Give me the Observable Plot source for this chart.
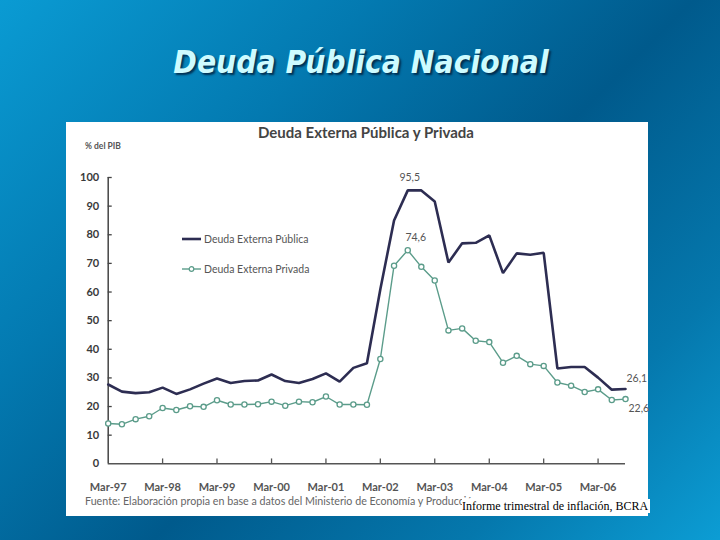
<!DOCTYPE html>
<html>
<head>
<meta charset="utf-8">
<script src="https://cdn.jsdelivr.net/npm/d3@7"></script>
<script src="https://cdn.jsdelivr.net/npm/@observablehq/plot@0.6"></script>
<style>
  html, body { margin: 0; padding: 0; }
  body {
    width: 720px; height: 540px; overflow: hidden; position: relative;
    background: linear-gradient(135deg, #0a9bd3 0%, #0379b0 30%, #005a8c 55%, #0578ad 80%, #0c9dd4 100%);
    font-family: "Lato", sans-serif;
  }
  #title {
    position: absolute; left: 0; width: 722px; top: 44px; text-align: center;
    font-family: "DejaVu Sans Condensed", "DejaVu Sans", sans-serif;
    font-weight: bold; font-style: italic; font-size: 31.5px; color: #cdfbff; line-height: 36px;
    text-shadow: 2px 2px 2px rgba(0,30,60,0.8);
  }
  #panel {
    position: absolute; left: 66px; top: 122px; width: 582px; height: 394px; background: #fff;
  }
  #ctitle {
    position: absolute; left: 0; width: 600px; top: 1px; text-align: center;
    font-family: "Lato", sans-serif; font-weight: bold; font-size: 15px; color: #444;
  }
  #unit {
    position: absolute; left: 19px; top: 19px; font-size: 8.5px; font-weight: bold; color: #555;
  }
  #plot { position: absolute; left: 0; top: 0; }
  .leg { position: absolute; left: 116px; font-size: 10.5px; color: #555; display: flex; align-items: center; }
  .leg svg { margin-right: 3px; }
  #source {
    position: absolute; left: 19px; top: 372px; font-size: 10.7px; color: #666; white-space: nowrap;
  }
  #bcra {
    position: absolute; left: 396px; top: 377px; font-family: "Liberation Serif", serif; font-size: 12px;
    color: #000; background: #fff; white-space: nowrap; line-height: 14px; padding-right: 2px;
  }
</style>
</head>
<body>
<div id="title">Deuda Pública Nacional</div>
<div id="panel">
  <div id="ctitle">Deuda Externa Pública y Privada</div>
  <div id="unit">% del PIB</div>
  <div id="plot"></div>
  <div class="leg" style="top:111px;"><svg width="19" height="8"><line x1="0" x2="19" y1="4" y2="4" stroke="#2d2d52" stroke-width="2.6"/></svg>Deuda Externa Pública</div>
  <div class="leg" style="top:141px;"><svg width="19" height="8"><line x1="0" x2="19" y1="4" y2="4" stroke="#5b9c8a" stroke-width="1.4"/><circle cx="9.5" cy="4" r="2.3" fill="#fff" stroke="#5b9c8a" stroke-width="1.2"/></svg>Deuda Externa Privada</div>
  <div id="source">Fuente: Elaboración propia en base a datos del Ministerio de Economía y Producción</div>
  <div id="bcra">Informe trimestral de inflación, BCRA</div>
</div>
<script>
// Quarterly observations, Mar-97 .. Sep-06
const quarters = [
  "1997-03","1997-06","1997-09","1997-12",
  "1998-03","1998-06","1998-09","1998-12",
  "1999-03","1999-06","1999-09","1999-12",
  "2000-03","2000-06","2000-09","2000-12",
  "2001-03","2001-06","2001-09","2001-12",
  "2002-03","2002-06","2002-09","2002-12",
  "2003-03","2003-06","2003-09","2003-12",
  "2004-03","2004-06","2004-09","2004-12",
  "2005-03","2005-06","2005-09","2005-12",
  "2006-03","2006-06","2006-09"
];
const publica = [
  27.7, 25.2, 24.7, 25.0,
  26.6, 24.4, 26.0, 28.0,
  29.8, 28.2, 28.9, 29.1,
  31.2, 28.9, 28.2, 29.6,
  31.6, 28.7, 33.5, 35.1,
  61.0, 85.0, 95.5, 95.5,
  91.6, 70.3, 77.0, 77.2,
  79.8, 66.6, 73.5, 73.0,
  73.7, 33.3, 33.8, 33.8,
  30.1, 25.9, 26.1
];
const privada = [
  14.1, 13.8, 15.6, 16.6,
  19.5, 18.8, 20.1, 19.9,
  22.2, 20.7, 20.7, 20.8,
  21.7, 20.3, 21.7, 21.5,
  23.5, 20.7, 20.7, 20.6,
  36.6, 69.2, 74.6, 68.8,
  64.0, 46.6, 47.3, 43.0,
  42.5, 35.3, 37.7, 34.8,
  34.2, 28.4, 27.3, 25.1,
  26.0, 22.3, 22.6
];
const yTicks = [0, 10, 20, 30, 40, 50, 60, 70, 80, 90, 100];
const xTickYears = [1997, 1998, 1999, 2000, 2001, 2002, 2003, 2004, 2005, 2006];
const annotations = [
  {q: "2002-09", v: 95.5, label: "95,5", serie: "pub"},
  {q: "2002-09", v: 74.6, label: "74,6", serie: "priv"},
  {q: "2006-09", v: 26.1, label: "26,1", serie: "pubEnd"},
  {q: "2006-09", v: 22.6, label: "22,6", serie: "privEnd"}
];

const toDate = q => { const [y, m] = q.split("-").map(Number); return new Date(Date.UTC(y, m - 1, 1)); };
const data = quarters.map((q, i) => ({date: toDate(q), pub: publica[i], priv: privada[i]}));
const d0 = data[0].date, d1 = data[data.length - 1].date;
const xTicks = xTickYears.map(y => new Date(Date.UTC(y, 2, 1)));
const tickEnd = new Date(Date.UTC(1997, 2, 28));
const ann = annotations.map(a => ({...a, date: toDate(a.q)}));

const navy = "#2d2d52", teal = "#5b9c8a";
const chart = Plot.plot({
  width: 582, height: 394,
  marginLeft: 41.7, marginRight: 23, marginTop: 55, marginBottom: 52.7,
  x: {type: "utc", domain: [d0, d1]},
  y: {domain: [0, 100]},
  style: {background: "transparent", fontFamily: "Lato, sans-serif", overflow: "visible"},
  marks: [
    Plot.ruleY(yTicks.slice(1), {y: d => d, x1: () => d0, x2: () => tickEnd, stroke: "#444", strokeWidth: 1.3}),
    Plot.ruleX(xTicks.slice(1), {x: d => d, y1: 0, y2: 1.7, stroke: "#555", strokeWidth: 1.3}),
    Plot.ruleY([0], {x1: () => d0, x2: () => d1, stroke: "#555", strokeWidth: 1.5}),
    Plot.ruleX([d0], {y1: 0, y2: 100, stroke: "#444", strokeWidth: 1.5}),
    Plot.axisY({ticks: yTicks, tickSize: 0, tickPadding: 9, fontSize: 11, fontWeight: "bold", fill: "#3a3a3a"}),
    Plot.axisX({ticks: xTicks, tickSize: 0, tickPadding: 19, fontSize: 11, fontWeight: "bold", fill: "#555",
      tickFormat: d => "Mar-" + String(d.getUTCFullYear()).slice(2)}),
    Plot.line(data, {x: "date", y: "priv", stroke: teal, strokeWidth: 1.4}),
    Plot.dot(data, {x: "date", y: "priv", r: 2.6, stroke: teal, fill: "#fff", strokeWidth: 1.3}),
    Plot.line(data, {x: "date", y: "pub", stroke: navy, strokeWidth: 2.6, strokeLinejoin: "miter"}),
    Plot.text(ann.filter(a => a.serie === "pub"), {x: "date", y: "v", text: "label", dy: -13, dx: 2, fontSize: 10.5, fill: "#555"}),
    Plot.text(ann.filter(a => a.serie === "priv"), {x: "date", y: "v", text: "label", dy: -13, dx: 8, fontSize: 10.5, fill: "#555"}),
    Plot.text(ann.filter(a => a.serie === "pubEnd"), {x: "date", y: "v", text: "label", dy: -10, dx: 1, textAnchor: "start", fontSize: 10.5, fill: "#555"}),
    Plot.text(ann.filter(a => a.serie === "privEnd"), {x: "date", y: "v", text: "label", dy: 10, dx: 3, textAnchor: "start", fontSize: 10.5, fill: "#555"})
  ]
});
document.getElementById("plot").appendChild(chart);
</script>
</body>
</html>
